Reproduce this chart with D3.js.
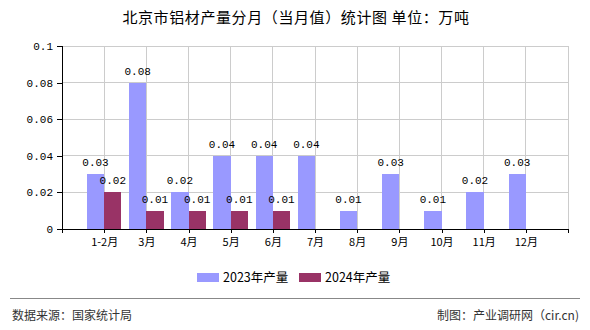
<!DOCTYPE html>
<html>
<head>
<meta charset="utf-8">
<script src="https://cdn.jsdelivr.net/npm/d3@7"></script>
<style>
  html, body { margin: 0; padding: 0; background: #fff; }
  svg { display: block; }
</style>
</head>
<body>
<svg id="chart" width="590" height="330"></svg>
<script>
// Monthly aluminium output, Beijing (unit: 10k tonnes)
const categories = ["1-2月", "3月", "4月", "5月", "6月", "7月", "8月", "9月", "10月", "11月", "12月"];
const values2023 = [0.03, 0.08, 0.02, 0.04, 0.04, 0.04, 0.01, 0.03, 0.01, 0.02, 0.03];
const values2024 = [0.02, 0.01, 0.01, 0.01, 0.01, null, null, null, null, null, null];
const yTicks = [0, 0.02, 0.04, 0.06, 0.08, 0.1];
const yTickLabels = ["0", "0.02", "0.04", "0.06", "0.08", "0.1"];
const seriesNames = ["2023年产量", "2024年产量"];
const colors = ["#9999FF", "#993366"];

const svg = d3.select("#chart");
const margin = { left: 62, right: 22, top: 46, bottom: 101 };
const W = 590, H = 330;
const plotW = W - margin.left - margin.right;
const plotH = H - margin.top - margin.bottom;
const labelFont = "'Liberation Mono', 'DejaVu Sans Mono', 'Noto Sans CJK SC', monospace";
const cjkFont = "'Noto Sans CJK SC', sans-serif";

// x: each category sits on a grid line; slots 0..12
const x = d3.scaleLinear().domain([0, categories.length + 1]).range([margin.left, margin.left + plotW]);
const y = d3.scaleLinear().domain([0, 0.1]).range([margin.top + plotH, margin.top]);
const barW = (x(1) - x(0)) * 0.41;

const g = svg.append("g");

// grid
const xGridTicks = d3.range(0, categories.length + 2);
g.selectAll("line.vgrid").data(xGridTicks.slice(1)).join("line")
  .attr("x1", d => x(d)).attr("x2", d => x(d))
  .attr("y1", y(0.1)).attr("y2", y(0))
  .attr("stroke", "#cccccc").attr("stroke-width", 1).attr("shape-rendering", "crispEdges");
g.selectAll("line.hgrid").data(yTicks.slice(1)).join("line")
  .attr("x1", x(0)).attr("x2", x(categories.length + 1))
  .attr("y1", d => y(d)).attr("y2", d => y(d))
  .attr("stroke", "#cccccc").attr("stroke-width", 1).attr("shape-rendering", "crispEdges");

// bars with value labels
const series = [values2023, values2024];
series.forEach((vals, si) => {
  const data = vals.map((v, i) => ({ v, i })).filter(d => d.v != null);
  g.selectAll(null).data(data).join("rect")
    .attr("x", d => si === 0 ? x(d.i + 1) - barW : x(d.i + 1))
    .attr("y", d => y(d.v))
    .attr("width", barW)
    .attr("height", d => y(0) - y(d.v))
    .attr("fill", colors[si])
    .attr("shape-rendering", "crispEdges");
  g.selectAll(null).data(data).join("text")
    .attr("x", d => si === 0 ? x(d.i + 1) - barW / 2 : x(d.i + 1) + barW / 2)
    .attr("y", d => y(d.v) - 8)
    .attr("text-anchor", "middle")
    .attr("font-family", labelFont)
    .attr("font-size", 11)
    .attr("fill", "#000")
    .text(d => d.v.toFixed(2));
});

// y axis
const yAxis = d3.axisLeft(y).tickValues(yTicks).tickSize(5)
  .tickFormat((d, i) => yTickLabels[i]);
const ya = svg.append("g").attr("transform", `translate(${x(0)},0)`).call(yAxis);
ya.select(".domain").attr("stroke", "#000").attr("shape-rendering", "crispEdges");
ya.selectAll(".tick line").attr("stroke", "#000").attr("shape-rendering", "crispEdges");
ya.selectAll(".tick text").attr("font-family", labelFont).attr("font-size", 11).attr("fill", "#000").attr("x", -9);

// x axis
const xAxis = d3.axisBottom(x).tickValues(xGridTicks).tickSize(4).tickSizeOuter(0)
  .tickFormat(d => (d >= 1 && d <= categories.length) ? categories[d - 1] : "");
const xa = svg.append("g").attr("transform", `translate(0,${y(0)})`).call(xAxis);
xa.select(".domain").attr("stroke", "#000").attr("stroke-width", 1.5).attr("shape-rendering", "crispEdges");
xa.selectAll(".tick line").attr("stroke", "#000").attr("shape-rendering", "crispEdges");
xa.selectAll(".tick text").attr("font-family", cjkFont).attr("font-size", 11).attr("fill", "#000").attr("dy", "0.9em");

// title
svg.append("text")
  .attr("x", 296).attr("y", 23)
  .attr("text-anchor", "middle")
  .attr("font-family", cjkFont)
  .attr("font-size", 15)
  .attr("letter-spacing", 0.6)
  .attr("fill", "#000")
  .text("北京市铝材产量分月（当月值）统计图 单位：万吨");

// legend
const legendX = [197, 299];
seriesNames.forEach((name, i) => {
  svg.append("rect").attr("x", legendX[i]).attr("y", 273).attr("width", 22).attr("height", 9).attr("fill", colors[i]);
  svg.append("text").attr("x", legendX[i] + 26).attr("y", 282)
    .attr("font-family", cjkFont).attr("font-size", 12.5).attr("fill", "#000").text(name);
});

// footer
svg.append("line").attr("x1", 10).attr("x2", 580).attr("y1", 298.5).attr("y2", 298.5)
  .attr("stroke", "#888").attr("stroke-width", 1);
svg.append("text").attr("x", 12).attr("y", 320)
  .attr("font-family", cjkFont).attr("font-size", 12).attr("fill", "#333").text("数据来源：国家统计局");
svg.append("text").attr("x", 579).attr("y", 320).attr("text-anchor", "end")
  .attr("font-family", cjkFont).attr("font-size", 12).attr("fill", "#333").text("制图：产业调研网（cir.cn)");
</script>
</body>
</html>
